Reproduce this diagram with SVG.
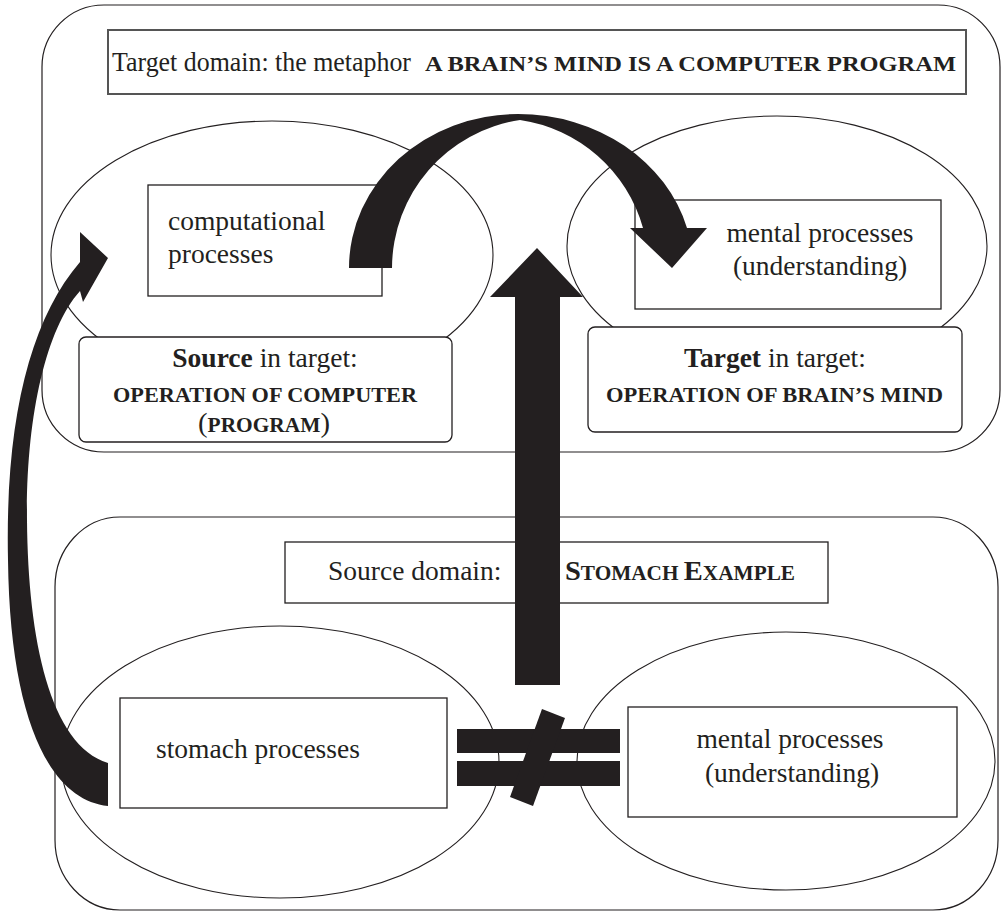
<svg xmlns="http://www.w3.org/2000/svg" width="1008" height="915" viewBox="0 0 1008 915">
<style>
.frame{fill:none;stroke:#231f20;stroke-width:1.2}
.ell{fill:none;stroke:#231f20;stroke-width:1.1}
.box{fill:#fff;stroke:#231f20;stroke-width:1.3}
.tbox{fill:#fff;stroke:#555;stroke-width:2}
.t{font-family:"Liberation Serif","Times New Roman",serif;font-size:27.5px;fill:#231f20}
.sc{font-family:"Liberation Serif","Times New Roman",serif;font-size:20.5px;font-weight:bold;fill:#231f20}
.b{font-weight:bold}
.arrow{fill:#231f20;stroke:none}
</style>
<rect width="1008" height="915" fill="#fff"/>
<g id="target-domain">
  <rect class="frame" x="42" y="5" width="958" height="447" rx="62" ry="62"/>
</g>
<g id="source-domain">
  <rect class="frame" x="55" y="517" width="943" height="393" rx="65" ry="70"/>
</g>
<g id="ellipses">
  <ellipse class="ell" cx="272" cy="255" rx="221" ry="134"/>
  <ellipse class="ell" cx="777" cy="246" rx="210" ry="130"/>
  <ellipse class="ell" cx="280" cy="762" rx="219" ry="136"/>
  <ellipse class="ell" cx="786" cy="761" rx="209" ry="129"/>
</g>
<g id="title-target">
  <rect class="tbox" x="108" y="30" width="858" height="64"/>
  <text class="t" x="112" y="71" font-size="27" textLength="299" lengthAdjust="spacingAndGlyphs">Target domain: the metaphor</text>
  <text class="sc" x="425" y="71" textLength="531" lengthAdjust="spacingAndGlyphs">A BRAIN’S MIND IS A COMPUTER PROGRAM</text>
</g>
<g id="computational">
  <rect class="box" x="148" y="185" width="234" height="111"/>
  <text class="t" x="168" y="230">computational</text>
  <text class="t" x="168" y="263">processes</text>
</g>
<g id="mental-top">
  <rect class="box" x="635" y="200" width="306" height="109"/>
  <text class="t" x="820" y="242" text-anchor="middle">mental processes</text>
  <text class="t" x="820" y="275" text-anchor="middle">(understanding)</text>
</g>
<g id="source-in-target">
  <rect class="box" x="79" y="337" width="373" height="105" rx="7"/>
  <text class="t" x="265" y="367" text-anchor="middle"><tspan class="b">Source</tspan> in target:</text>
  <text class="sc" x="113" y="402" textLength="304" lengthAdjust="spacingAndGlyphs">OPERATION OF COMPUTER</text>
  <text class="sc" x="198" y="432" textLength="132" lengthAdjust="spacingAndGlyphs"><tspan class="t" font-weight="normal">(</tspan>PROGRAM<tspan class="t" font-weight="normal">)</tspan></text>
</g>
<g id="target-in-target">
  <rect class="box" x="588" y="327" width="374" height="105" rx="7"/>
  <text class="t" x="775" y="367" text-anchor="middle"><tspan class="b">Target</tspan> in target:</text>
  <text class="sc" x="606" y="402" textLength="337" lengthAdjust="spacingAndGlyphs">OPERATION OF BRAIN’S MIND</text>
</g>
<g id="title-source">
  <rect class="box" x="285" y="542" width="543" height="61"/>
  <text class="t" x="328" y="580">Source domain:</text>
  <text class="sc" x="565" y="580" textLength="230" lengthAdjust="spacingAndGlyphs"><tspan font-size="27.5">S</tspan>TOMACH <tspan font-size="27.5">E</tspan>XAMPLE</text>
</g>
<g id="stomach">
  <rect class="box" x="120" y="698" width="327" height="110"/>
  <text class="t" x="156" y="758">stomach processes</text>
</g>
<g id="mental-bottom">
  <rect class="box" x="628" y="707" width="329" height="110"/>
  <text class="t" x="790" y="748" text-anchor="middle">mental processes</text>
  <text class="t" x="792" y="782" text-anchor="middle">(understanding)</text>
</g>
<g id="connectors">
  <path class="arrow" d="M349,268 A169,154 0 0 1 518,114 A175,154 0 0 1 687,228 L707,228 L672,268 L630,228 L643,228 A150,150 0 0 0 520,120 A150,150 0 0 0 392,268 Z"/>
  <path class="arrow" d="M515,685 L515,297 L490,297 L537,248 L583,297 L560,297 L560,685 Z"/>
  <path class="arrow" d="M108,806 C50,800 10,720 8,560 C5,420 30,320 80,262 L80,232 L108,258 L83,302 L80,291 C45,330 26,420 27,520 C28,640 50,745 108,763 Z"/>
  <g id="not-equal">
    <rect class="arrow" x="457" y="729" width="163" height="24"/>
    <rect class="arrow" x="457" y="761" width="163" height="25"/>
    <polygon class="arrow" points="542,709 565,718 533,806 510,797"/>
  </g>
</g>
</svg>
